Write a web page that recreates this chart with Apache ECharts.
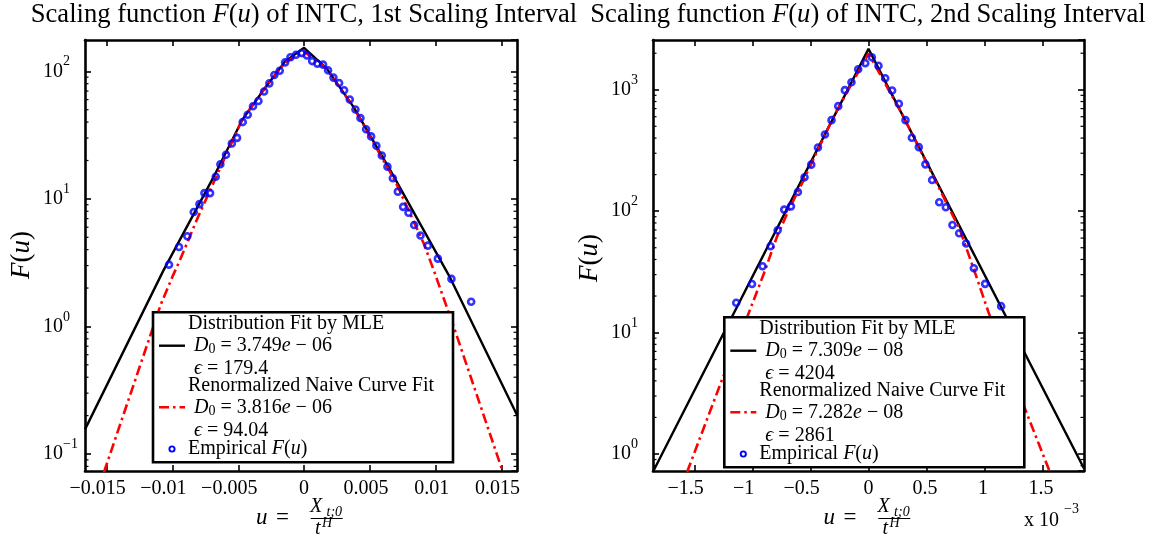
<!DOCTYPE html>
<html><head><meta charset="utf-8">
<script src="https://cdn.jsdelivr.net/npm/echarts@6/dist/echarts.min.js"></script>
<style>html,body{margin:0;padding:0;background:#fff}#c{width:1161px;height:542px}</style>
</head><body><div id="c"></div>
<script>
const FONT = '"Liberation Serif","Times New Roman",serif';

// ---------- Panel 1: 1st scaling interval ----------
const p1TicksX = [-0.015, -0.01, -0.005, 0, 0.005, 0.01, 0.015];
const p1RangeX = [-0.01664, 0.01617];
const p1RangeY = [0.0736, 176];
const p1EmpU = [-0.01026,-0.0095,-0.00887,-0.00838,-0.00795,-0.00757,-0.00714,-0.00671,-0.00636,-0.00593,-0.00549,-0.00509,-0.00466,-0.00428,-0.00388,-0.00347,-0.00304,-0.00264,-0.00226,-0.00185,-0.00144,-0.00104,-0.00061,-0.00018,0.00021,0.00061,0.00101,0.00144,0.00182,0.00223,0.00266,0.00304,0.00347,0.0039,0.00428,0.00471,0.00509,0.00549,0.0059,0.00633,0.00674,0.00712,0.00752,0.00793,0.00836,0.00884,0.0094,0.01016,0.01119,0.01269];
const p1EmpF = [3.05,4.2,5.1,7.9,9.1,11.1,11.1,14.9,18.7,22.2,27.2,30.1,40.0,45.6,53.3,58.6,69.4,80.5,93.6,101,117.6,129,135,139,133.4,120.3,114.8,112.8,101.8,89.3,81.1,71.1,60.1,50.2,43.0,35.1,30.9,26.1,21.9,17.9,14.5,11.4,8.66,7.78,6.24,5.17,4.3,3.4,2.36,1.56];
const p1MleU = [-0.01664,-0.01069,-0.00691,-0.00471,-0.00304,-0.00144,0,0.00172,0.00375,0.00653,0.0111,0.01617];
const p1MleF = [0.156,2.74,14.6,41.4,72.3,119.7,153,105,52.6,16.9,2.40,0.202];
const p1NaiveU = [-0.0152,-0.01087,-0.00993,-0.00942,-0.00815,-0.00689,-0.00471,-0.00304,-0.00144,0,0.00172,0.00375,0.00699,0.00907,0.00983,0.01135,0.0151];
const p1NaiveF = [0.072,1.50,2.55,3.33,6.85,13.3,41.7,72.4,117.5,143,104.7,52.5,13.3,4.51,2.79,1.005,0.072];

// ---------- Panel 2: 2nd scaling interval (u in units of 1e-3) ----------
const p2TicksX = [-1.5, -1, -0.5, 0, 0.5, 1, 1.5];
const p2RangeX = [-1.859, 1.859];
const p2RangeY = [0.724, 2570];
const p2EmpU = [-1.141,-1.005,-0.914,-0.845,-0.784,-0.727,-0.669,-0.609,-0.552,-0.494,-0.436,-0.376,-0.319,-0.261,-0.204,-0.147,-0.089,-0.028,0.029,0.086,0.144,0.204,0.262,0.319,0.374,0.434,0.491,0.549,0.61,0.667,0.724,0.782,0.842,0.909,1.006,1.144];
const p2EmpF = [17.6,25.1,35.2,51.4,69.7,103,109.6,143.8,190,241.6,335,428.5,562,733,993,1154,1475,1656,1854,1575,1245,987,767,562,403,337,243,180.6,118.3,107.7,77,65.8,54.1,33.9,25.2,16.5];
const p2MleU = [-1.859, 0, 1.859];
const p2MleF = [0.713, 2173, 0.76];
const p2NaiveU = [-1.565,-1.259,-1.034,-0.905,-0.79,-0.69,-0.589,-0.3,0,0.3,0.647,0.79,0.92,1.034,1.336,1.565];
const p2NaiveF = [0.71,4.2,14.4,30.2,61.4,101.6,158,603,1995,603,131,69.7,30.9,14.8,2.54,0.71];

// ---------- texts ----------
const titles = ['Scaling function {i|F}({i|u}) of INTC, 1st Scaling Interval',
                'Scaling function {i|F}({i|u}) of INTC, 2nd Scaling Interval'];
const legend1 = ['Distribution Fit by MLE','{i|D}{s|0} = 3.749{i|e} − 06','{i|ϵ} = 179.4',
                 'Renormalized Naive Curve Fit','{i|D}{s|0} = 3.816{i|e} − 06','{i|ϵ} = 94.04','Empirical {i|F}({i|u})'];
const legend2 = ['Distribution Fit by MLE','{i|D}{s|0} = 7.309{i|e} − 08','{i|ϵ} = 4204',
                 'Renormalized Naive Curve Fit','{i|D}{s|0} = 7.282{i|e} − 08','{i|ϵ} = 2861','Empirical {i|F}({i|u})'];

function zip(a, b) { return a.map((v, i) => [v, b[i]]); }

const panels = [
  { grid: {left: 85, top: 40, width: 432, height: 431}, xr: p1RangeX, yr: p1RangeY, ticks: p1TicksX,
    emp: zip(p1EmpU, p1EmpF), mle: zip(p1MleU, p1MleF), naive: zip(p1NaiveU, p1NaiveF), negPad: 18, posPad: 8 },
  { grid: {left: 653, top: 40, width: 431, height: 431}, xr: p2RangeX, yr: p2RangeY, ticks: p2TicksX,
    emp: zip(p2EmpU, p2EmpF), mle: zip(p2MleU, p2MleF), naive: zip(p2NaiveU, p2NaiveF), negPad: 18, posPad: 3 }
];

const chart = echarts.init(document.getElementById('c'), null, {renderer: 'canvas'});
const option = { animation: false, backgroundColor: '#fff', grid: [], xAxis: [], yAxis: [], series: [] };

panels.forEach((p, i) => {
  option.grid.push(Object.assign({show: false}, p.grid));
  const axLine = {show: true, onZero: false, lineStyle: {color: '#000', width: 2.6}};
  const lblBase = {fontSize: 20, fontFamily: FONT, color: '#000'};
  const xfmt = v => {
    if (Math.abs(v) < 1e-12) return '{z|0}';
    const s = String(Math.abs(+v.toFixed(6)));
    return v < 0 ? '{n|−' + s + '}' : '{p|' + s + '}';
  };
  ['bottom', 'top'].forEach(pos => {
    option.xAxis.push({
      type: 'value', gridIndex: i, position: pos, min: p.xr[0], max: p.xr[1],
      axisLine: axLine, splitLine: {show: false},
      axisTick: {show: true, inside: true, length: 6, lineStyle: {color: '#000', width: 1.6}, customValues: p.ticks},
      axisLabel: {show: pos === 'bottom', customValues: p.ticks, formatter: xfmt, margin: 8,
        color: '#000', fontFamily: FONT, fontSize: 20,
        rich: {
          n: Object.assign({padding: [0, p.negPad, 0, 0]}, lblBase),
          p: Object.assign({padding: [0, p.posPad, 0, 0]}, lblBase),
          z: Object.assign({}, lblBase)
        }}
    });
  });
  const yfmt = v => {
    const l = Math.log10(v), e = Math.round(l);
    if (Math.abs(l - e) > 1e-6) return '';
    return e < 0 ? '{b|10}{en|−' + (-e) + '}' : '{b|10}{e|' + e + '}';
  };
  ['left', 'right'].forEach(pos => {
    option.yAxis.push({
      type: 'log', logBase: 10, gridIndex: i, position: pos, min: p.yr[0], max: p.yr[1],
      axisLine: axLine, splitLine: {show: false}, minorTick: {show: false},
      axisTick: {show: true, inside: true, length: 6, lineStyle: {color: '#000', width: 1.6}},
      axisLabel: {show: pos === 'left', showMinLabel: false, showMaxLabel: false, formatter: yfmt, margin: 3,
        rich: {
          b: {fontSize: 20, fontFamily: FONT, color: '#000'},
          e: {fontSize: 14, fontFamily: FONT, color: '#000', padding: [0, 12, 19, 0]},
          en: {fontSize: 14, fontFamily: FONT, color: '#000', padding: [0, 4, 19, 0]}
        }}
    });
  });
  option.series.push({
    type: 'line', xAxisIndex: 2 * i, yAxisIndex: 2 * i, data: p.mle, symbol: 'none', silent: true,
    lineStyle: {color: '#000', width: 2.4}, z: 2
  });
  option.series.push({
    type: 'line', xAxisIndex: 2 * i, yAxisIndex: 2 * i, data: p.naive, symbol: 'none', silent: true,
    lineStyle: {color: '#ff0000', width: 2.6, type: [10, 4, 2.5, 4]}, z: 2
  });
  option.series.push({
    type: 'scatter', xAxisIndex: 2 * i, yAxisIndex: 2 * i, data: p.emp, symbol: 'circle', symbolSize: 6, silent: true,
    itemStyle: {color: 'rgba(0,0,0,0)', borderColor: '#0000ff', borderWidth: 2.6}, z: 3
  });
});

chart.setOption(option);

// ---------- graphic overlays ----------
const G = [];
function txt(x, y, text, size, opts) {
  opts = opts || {};
  const st = {
    text: text, x: x, y: y, fill: '#000', fontSize: size, fontFamily: FONT,
    fontStyle: opts.italic ? 'italic' : 'normal',
    align: opts.align || 'left', textAlign: opts.align || 'left',
    verticalAlign: 'middle', textVerticalAlign: 'middle',
    rich: {
      i: {fontStyle: 'italic', fontSize: size, fontFamily: FONT, fill: '#000', color: '#000'},
      s: {fontSize: Math.round(size * 0.7), fontFamily: FONT, fill: '#000', color: '#000', padding: [8, 0, 0, 0]}
    }
  };
  const el = {type: 'text', style: st, z: opts.z || 110, silent: true};
  if (opts.rotation) { el.rotation = opts.rotation; el.x = x; el.y = y; st.x = 0; st.y = 0; }
  G.push(el);
}
// titles
txt(304, 15, titles[0], 26.6, {align: 'center'});
txt(868, 15, titles[1], 26.6, {align: 'center'});
// y names
txt(22, 255, '{i|F}({i|u})', 27, {align: 'center', rotation: Math.PI / 2});
txt(590, 258, '{i|F}({i|u})', 27, {align: 'center', rotation: Math.PI / 2});
// x names
[0, 567.6].forEach(dx => {
  txt(256 + dx, 518, 'u', 23, {italic: true});
  txt(276 + dx, 518, '=', 23);
  txt(310 + dx, 507, 'X', 20, {italic: true});
  txt(326.5 + dx, 512, 't;0', 14, {italic: true});
  G.push({type: 'line', shape: {x1: 310.7 + dx, y1: 518.5, x2: 342.7 + dx, y2: 518.5}, style: {stroke: '#000', lineWidth: 1.2}, z: 110, silent: true});
  txt(315 + dx, 529, 't', 20, {italic: true});
  txt(322 + dx, 523, 'H', 14, {italic: true});
});
txt(1024, 521, 'x 10', 20);
txt(1064, 509, '−3', 14);

// legends
function legend(bx, by, labels) {
  G.push({type: 'rect', shape: {x: bx, y: by, width: 300, height: 150}, style: {fill: '#fff', stroke: '#000', lineWidth: 2.6}, z: 100, silent: true});
  const rows = [[35, 11.5], [41, 33.4], [41, 56.7], [35, 73.4], [41, 95], [41, 118.4], [35, 136.7]];
  rows.forEach((r, k) => txt(bx + r[0], by + r[1], labels[k], 20));
  G.push({type: 'line', shape: {x1: bx + 6, y1: by + 33.4, x2: bx + 32, y2: by + 33.4}, style: {stroke: '#000', lineWidth: 2.4}, z: 110, silent: true});
  G.push({type: 'line', shape: {x1: bx + 6, y1: by + 95, x2: bx + 32, y2: by + 95}, style: {stroke: '#ff0000', lineWidth: 2.6, lineDash: [10, 4, 2.5, 4]}, z: 110, silent: true});
  G.push({type: 'circle', shape: {cx: bx + 19, cy: by + 136.7, r: 2.6}, style: {fill: 'none', stroke: '#0000ff', lineWidth: 1.9}, z: 110, silent: true});
}
legend(153, 312.3, legend1);
legend(724.3, 317.3, legend2);

// minor log ticks on left/right y axes
panels.forEach((p, i) => {
  const sIdx = 3 * i;
  const left = p.grid.left, right = p.grid.left + p.grid.width;
  const k0 = Math.floor(Math.log10(p.yr[0])), k1 = Math.ceil(Math.log10(p.yr[1]));
  for (let k = k0; k <= k1; k++) {
    for (let m = 2; m <= 9; m++) {
      const v = m * Math.pow(10, k);
      if (v <= p.yr[0] || v >= p.yr[1]) continue;
      const y = chart.convertToPixel({seriesIndex: sIdx}, [0, v])[1];
      G.push({type: 'line', shape: {x1: left, y1: y, x2: left + 3.5, y2: y}, style: {stroke: '#000', lineWidth: 1.2}, z: 50, silent: true});
      G.push({type: 'line', shape: {x1: right - 3.5, y1: y, x2: right, y2: y}, style: {stroke: '#000', lineWidth: 1.2}, z: 50, silent: true});
    }
  }
});

chart.setOption({graphic: G});
</script>
</body></html>
